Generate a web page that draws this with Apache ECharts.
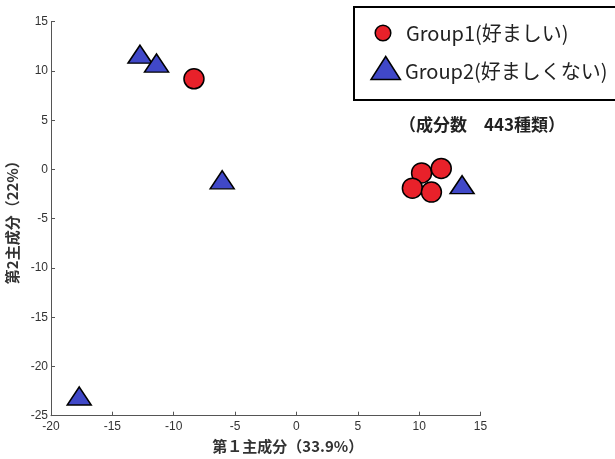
<!DOCTYPE html>
<html>
<head>
<meta charset="utf-8">
<script src="https://cdn.jsdelivr.net/npm/echarts@6/dist/echarts.min.js"></script>
<style>
html,body{margin:0;padding:0;background:#fff;}
#c{width:615px;height:459px;}
</style>
</head>
<body>
<div id="c"></div>
<script>
// Data
const seriesNames = ['Group1(好ましい)', 'Group2(好ましくない)'];
const group1 = [[-8.35, 9.2], [10.2, -0.35], [11.8, 0.1], [9.45, -1.9], [11.0, -2.3]];
const group2 = [[-12.75, 11.7], [-11.4, 10.8], [-6.05, -1.05], [13.5, -1.55], [-17.7, -23.0]];
const xTicks = [-20, 15, 5];   // min, max, interval
const yTicks = [-25, 15, 5];
const xAxisTitle = '第１主成分（33.9%）';
const yAxisTitle = '第2主成分（22%）';
const note = '（成分数　443種類）';

const RED = '#E8212A';
const BLUE = '#4048C8';
const CJK = '"Noto Sans CJK JP", "Noto Sans", sans-serif';

const chart = echarts.init(document.getElementById('c'), null, {renderer: 'canvas'});
const axisCommon = {
  axisLine: {show: true, onZero: false, lineStyle: {color: '#555', width: 1}},
  axisTick: {show: true, inside: true, length: 4, lineStyle: {color: '#555'}},
  splitLine: {show: false},
  axisLabel: {color: '#333', fontSize: 12, fontFamily: '"Liberation Sans", Arial, sans-serif'}
};
chart.setOption({
  animation: false,
  backgroundColor: '#fff',
  grid: {left: 51, right: 134.5, top: 21.7, bottom: 43.3, containLabel: false, outerBoundsMode: 'none'},
  xAxis: Object.assign({}, axisCommon, {
    type: 'value', min: xTicks[0], max: xTicks[1], interval: xTicks[2],
    name: xAxisTitle, nameLocation: 'middle', nameGap: 23,
    nameTextStyle: {fontFamily: CJK, fontSize: 15, fontWeight: 'bold', color: '#333', padding: [0, 0, 0, 44]},
    axisLabel: Object.assign({}, axisCommon.axisLabel, {margin: 5})
  }),
  yAxis: Object.assign({}, axisCommon, {
    type: 'value', min: yTicks[0], max: yTicks[1], interval: yTicks[2],
    name: yAxisTitle, nameLocation: 'middle', nameGap: 25, nameRotate: 90,
    nameTextStyle: {fontFamily: CJK, fontSize: 15, fontWeight: 'bold', color: '#333'},
    axisLabel: Object.assign({}, axisCommon.axisLabel, {margin: 3})
  }),
  series: [
    {name: seriesNames[0], type: 'scatter', data: group1, symbol: 'circle', symbolSize: 20,
     itemStyle: {color: RED, opacity: 1, borderColor: '#000', borderWidth: 1.5}, z: 3},
    {name: seriesNames[1], type: 'scatter', data: group2, symbol: 'triangle', symbolSize: [24, 18],
     itemStyle: {color: BLUE, opacity: 1, borderColor: '#000', borderWidth: 1.5}, z: 2}
  ],
  graphic: [
    {type: 'rect', shape: {x: 354, y: 7, width: 280, height: 93},
     style: {fill: '#fff', stroke: '#000', lineWidth: 2}, z: 10},
    {type: 'circle', shape: {cx: 383, cy: 33, r: 7.8},
     style: {fill: RED, stroke: '#000', lineWidth: 1.5}, z: 11},
    {type: 'polygon', shape: {points: [[385.7, 56.5], [371, 79.5], [400.4, 79.5]]},
     style: {fill: BLUE, stroke: '#000', lineWidth: 1.5}, z: 11},
    {type: 'text', x: 406, y: 33.5, z: 11,
     style: {text: seriesNames[0], fill: '#222', font: '20px ' + CJK, verticalAlign: 'middle'}},
    {type: 'text', x: 405, y: 71, z: 11,
     style: {text: seriesNames[1], fill: '#222', font: '20px ' + CJK, verticalAlign: 'middle'}},
    {type: 'text', x: 482, y: 125, z: 11,
     style: {text: note, fill: '#222', font: 'bold 17px ' + CJK, align: 'center', verticalAlign: 'middle'}}
  ]
});
</script>
</body>
</html>
